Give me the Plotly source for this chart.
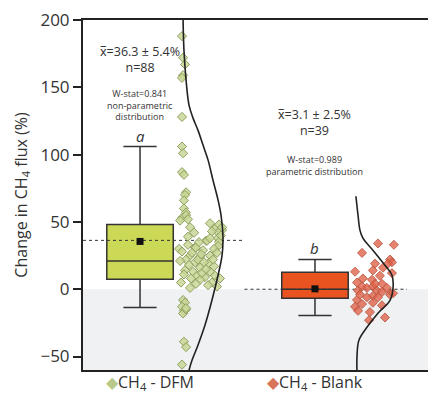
import plotly.graph_objects as go

# ---------------- data ----------------
groups = ["CH4 - DFM", "CH4 - Blank"]
group_pos = [0, 1]

# box statistics
q1 = [7.5, -6.7]
median = [21, 0]
q3 = [48, 12.6]
lower_whisker = [-13.5, -19.5]
upper_whisker = [106, 22]
mean_marker = [35.5, 0.3]
mean_line = [36.3, 0.0]

# individual observations (values) and their horizontal jitter
dfm_values = [188, 172, 167, 159, 157, 128,
              106, 101, 87, 85, 72, 70, 66, 60, 57, 53, 55, 51, 52, 46, 49, 45, 48, 44, 42, 36, 38, 39, 31, 30,
              36, 35, 32, 31, 28, 25, 24, 25, 22, 20, 19, 16, 14, 13, 13, 10, 9, 10, 5, 7, 5, 2,
              -8, -10, -13, -16, -18, -39, -43, -56,
              27, 29, 30, 40, 43, 22, 20, 18, 17, 21, 8, 12, 3, 11, 4, 8, 22, 46, 15, 33, 35, 27,
              -15, 1, 38, 42, 26, -14]
dfm_jitter = [0.240, 0.246, 0.257, 0.246, 0.240, 0.240,
              0.240, 0.246, 0.240, 0.251, 0.263, 0.257, 0.251, 0.251, 0.263, 0.240, 0.263, 0.229, 0.274, 0.286,
              0.400, 0.429, 0.451, 0.469, 0.446, 0.377, 0.446, 0.274, 0.314, 0.223,
              0.383, 0.451, 0.446, 0.320, 0.240, 0.286, 0.343, 0.400, 0.263, 0.314, 0.389, 0.343, 0.257,
              0.303, 0.400, 0.429, 0.371, 0.326, 0.234, 0.343, 0.411, 0.440,
              0.246, 0.257, 0.240, 0.251, 0.246, 0.251, 0.263, 0.240,
              0.297, 0.360, 0.423, 0.463, 0.411, 0.331, 0.366, 0.280, 0.423, 0.229, 0.291, 0.354, 0.389,
              0.251, 0.320, 0.457, 0.417, 0.469, 0.377, 0.274, 0.337, 0.440,
              0.263, 0.286, 0.400, 0.309, 0.349, 0.263]

blank_values = [34, 33, 27, 19, 22, 20, 19, 16, 14, 13, 10, 12, 8, 7, 5, 4, 2, 1, 2, -1,
                -2, 1, -1, -4, -3, -5, -6, -8, -11, -13, -10, -16, -17, -21, -23, -12, -6, -4, 4]
blank_jitter = [0.360, 0.451, 0.269, 0.343, 0.429, 0.440, 0.417, 0.389, 0.331, 0.229, 0.371, 0.440,
                0.274, 0.326, 0.240, 0.383, 0.269, 0.297, 0.331, 0.354, 0.383, 0.411, 0.246, 0.429,
                0.446, 0.331, 0.297, 0.240, 0.269, 0.229, 0.331, 0.246, 0.314, 0.400, 0.309, 0.383,
                0.360, 0.257, 0.343]

# fitted distribution curves (offset from group centre, value)
dfm_curve_x = [0.246, 0.251, 0.263, 0.280, 0.303, 0.331, 0.360, 0.389, 0.417, 0.446, 0.463, 0.474,
               0.469, 0.446, 0.411, 0.371, 0.331, 0.297, 0.280]
dfm_curve_y = [200, 177.7, 155.4, 136.8, 127.1, 118.2, 107.1, 95.9, 81.0, 66.2, 55.0, 38.7,
               25.3, 10.4, -8.2, -26.8, -41.6, -52.8, -60.2]
blank_curve_x = [0.234, 0.246, 0.257, 0.274, 0.331, 0.400, 0.440, 0.446, 0.429, 0.360, 0.297,
                 0.251, 0.240, 0.240]
blank_curve_y = [69.1, 55.0, 43.9, 37.9, 29.0, 17.8, 10.4, 0.7, -8.2, -17.8, -28.3, -37.9, -50.6, -60.2]

stats_text = ["x\u0305=36.3 \u00b1 5.4%<br>n=88", "x\u0305=3.1 \u00b1 2.5%<br>n=39"]
wstat_text = ["W-stat=0.841<br>non-parametric<br>distribution", "W-stat=0.989<br>parametric distribution"]
letters = ["a", "b"]

y_ticks = [-50, 0, 50, 100, 150, 200]

# ---------------- styles ----------------
box_fill = ["#cbd957", "#e9531f"]
pt_fill = ["rgba(200,215,150,0.85)", "rgba(224,100,75,0.8)"]
pt_line = ["#8f9f5e", "#b5513b"]
legend_col = ["#b9c98a", "#d9735a"]
FONT = "Open Sans, Noto Sans, sans-serif"

fig = go.Figure()

# shaded negative region
fig.add_shape(type="rect", xref="paper", yref="y", x0=0, x1=1, y0=-60, y1=0,
              fillcolor="#eff1f2", line_width=0, layer="below")

# dashed mean lines
dash_extent = [(-0.326, 0.6), (0.597, 1.526)]
for i in range(2):
    fig.add_trace(go.Scatter(x=list(dash_extent[i]), y=[mean_line[i]] * 2, mode="lines",
                             line=dict(color="#333", width=1, dash="dot"),
                             showlegend=False, hoverinfo="skip"))

# boxes
for i in range(2):
    fig.add_trace(go.Box(x=[group_pos[i]], q1=[q1[i]], median=[median[i]], q3=[q3[i]],
                         lowerfence=[lower_whisker[i]], upperfence=[upper_whisker[i]],
                         width=0.38, whiskerwidth=0.5, fillcolor=box_fill[i],
                         line=dict(color="#333", width=1.5), showlegend=False,
                         boxpoints=False, name=groups[i]))

# mean markers
fig.add_trace(go.Scatter(x=group_pos, y=mean_marker, mode="markers",
                         marker=dict(symbol="square", size=7, color="#111"),
                         showlegend=False))

# points
fig.add_trace(go.Scatter(x=[group_pos[0] + j for j in dfm_jitter], y=dfm_values, mode="markers",
                         marker=dict(symbol="diamond", size=7, color=pt_fill[0],
                                     line=dict(color=pt_line[0], width=1)),
                         name=groups[0], showlegend=False))
fig.add_trace(go.Scatter(x=[group_pos[1] + j for j in blank_jitter], y=blank_values, mode="markers",
                         marker=dict(symbol="diamond", size=7, color=pt_fill[1],
                                     line=dict(color=pt_line[1], width=0.8)),
                         name=groups[1], showlegend=False))

# distribution curves
fig.add_trace(go.Scatter(x=[group_pos[0] + v for v in dfm_curve_x], y=dfm_curve_y, mode="lines",
                         line=dict(color="#222", width=1.6, shape="spline"), showlegend=False))
fig.add_trace(go.Scatter(x=[group_pos[1] + v for v in blank_curve_x], y=blank_curve_y, mode="lines",
                         line=dict(color="#222", width=1.6, shape="spline"), showlegend=False))

# annotations
stat_y = [171, 124]
wstat_y = [137, 92]
letter_y = [114, 31]
for i in range(2):
    fig.add_annotation(x=group_pos[i], y=stat_y[i], text=stats_text[i], showarrow=False,
                       font=dict(family=FONT, size=12.5, color="#333"), yanchor="middle")
    fig.add_annotation(x=group_pos[i], y=wstat_y[i], text=wstat_text[i], showarrow=False,
                       font=dict(family=FONT, size=9, color="#333"), yanchor="middle")
    fig.add_annotation(x=group_pos[i], y=letter_y[i], text="<i>" + letters[i] + "</i>", showarrow=False,
                       font=dict(family=FONT, size=15, color="#333"), yanchor="middle")

legend_labels = ["CH<sub>4</sub> - DFM", "CH<sub>4</sub> - Blank"]
legend_x = [0.057, 1.0]
for i in range(2):
    fig.add_annotation(xref="x", yref="paper", x=legend_x[i], y=0, yanchor="top", yshift=1,
                       text="<span style='color:%s'>\u25c6</span>%s" % (legend_col[i], legend_labels[i]),
                       showarrow=False, font=dict(family=FONT, size=16, color="#333"))

fig.update_layout(
    width=429, height=394,
    margin=dict(l=83, r=1, t=20, b=24, autoexpand=False),
    plot_bgcolor="white", paper_bgcolor="white",
    font=dict(family=FONT, color="#333"),
    xaxis=dict(range=[-0.326, 1.646], showgrid=False, zeroline=False, showticklabels=False,
               ticks="", showline=True, linecolor="#222", linewidth=2, mirror=True, automargin=False),
    yaxis=dict(range=[-60, 200], tickvals=y_ticks, showgrid=False, zeroline=False,
               ticks="outside", ticklen=8, tickwidth=2, tickcolor="#222",
               showline=True, linecolor="#222", linewidth=2, automargin=False,
               tickfont=dict(family=FONT, size=17, color="#333"),
               title=dict(text="Change in CH<sub>4</sub> flux (%)", standoff=9,
                          font=dict(family=FONT, size=16, color="#333"))),
    showlegend=False,
)

fig.write_html("out.html", config={"displayModeBar": False},
               post_script="document.body.style.margin='0px';")
